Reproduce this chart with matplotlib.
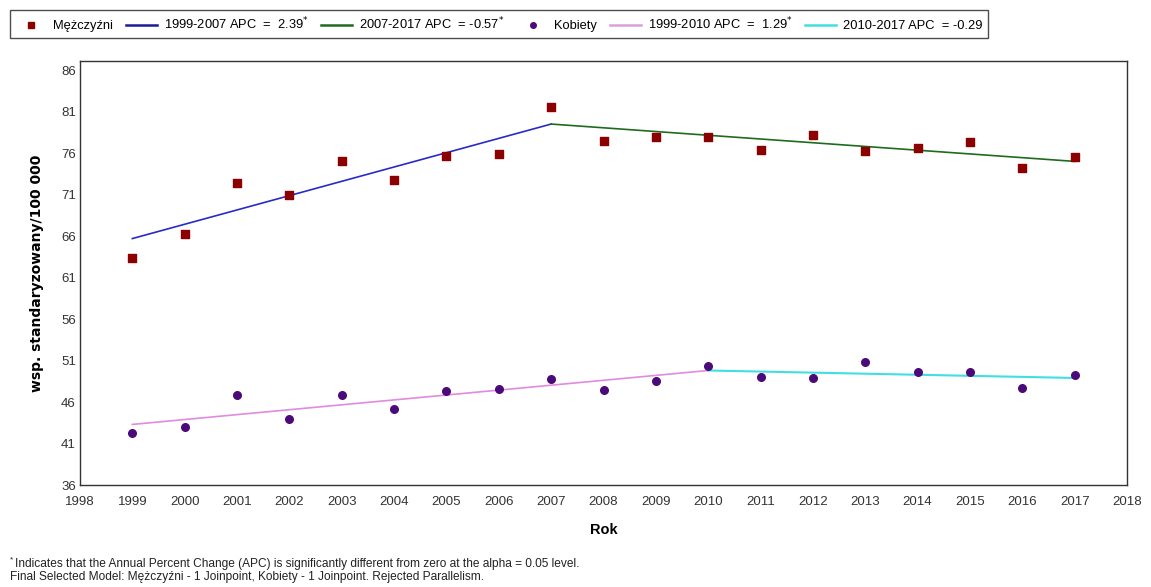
import matplotlib
matplotlib.use("Agg")
import matplotlib.pyplot as plt
from matplotlib.lines import Line2D

plt.rcParams['font.family'] = ['Liberation Sans', 'DejaVu Sans']

# dane
years = list(range(1999, 2018))
men = [63.3, 66.2, 72.4, 71.0, 75.0, 72.8, 75.6, 75.9, 81.6, 77.4,
       78.0, 78.0, 76.4, 78.2, 76.2, 76.6, 77.3, 74.2, 75.5]
women = [42.3, 43.0, 46.9, 44.0, 46.8, 45.1, 47.3, 47.6, 48.8, 47.5,
         48.5, 50.4, 49.0, 48.9, 50.8, 49.6, 49.6, 47.7, 49.2]

# modele joinpoint (lata węzłów i wartości dopasowane)
men_fit_1_x = [1999, 2007]
men_fit_1_y = [65.7, 79.5]
men_fit_2_x = [2007, 2017]
men_fit_2_y = [79.5, 75.0]
women_fit_1_x = [1999, 2010]
women_fit_1_y = [43.3, 49.8]
women_fit_2_x = [2010, 2017]
women_fit_2_y = [49.8, 48.9]

labels = ['Mężczyźni',
          '1999-2007 APC  =  2.39$^{*}$',
          '2007-2017 APC  = -0.57$^{*}$',
          'Kobiety',
          '1999-2010 APC  =  1.29$^{*}$',
          '2010-2017 APC  = -0.29']

c_men = '#8b0000'
c_women = '#4b0a7a'
c_blue = '#2a2ac8'
c_green = '#1e6b1e'
c_pink = '#e08be0'
c_cyan = '#40e0e0'

fig = plt.figure(figsize=(11.51, 5.87), dpi=100)
ax = fig.add_axes([80 / 1151, 1 - 485 / 587, (1127 - 80) / 1151, (485 - 61) / 587])

ax.plot(men_fit_1_x, men_fit_1_y, color=c_blue, lw=1.2, zorder=2)
ax.plot(men_fit_2_x, men_fit_2_y, color=c_green, lw=1.2, zorder=2)
ax.plot(women_fit_1_x, women_fit_1_y, color=c_pink, lw=1.2, zorder=2)
ax.plot(women_fit_2_x, women_fit_2_y, color=c_cyan, lw=1.5, zorder=2)
ax.scatter(years, men, marker='s', s=30, color=c_men, zorder=3)
ax.scatter(years, women, marker='o', s=30, color=c_women, zorder=3)

ax.set_xlim(1998, 2018)
ax.set_ylim(36, 87.1)
ax.set_xticks(range(1998, 2019))
ax.set_yticks(range(36, 87, 5))
ax.tick_params(axis='both', length=0, labelsize=9.5, labelcolor='#333333')
ax.tick_params(axis='x', pad=8)
ax.tick_params(axis='y', pad=3)
for s in ax.spines.values():
    s.set_color('#333333')
    s.set_linewidth(1.0)

ax.set_xlabel('Rok', fontsize=10.5, fontweight='bold', labelpad=11)
ax.set_ylabel('wsp. standaryzowany/100 000', fontsize=10, fontweight='bold',
              family='DejaVu Sans', labelpad=12)

handles = [
    Line2D([], [], ls='none', marker='s', ms=4, color=c_men),
    Line2D([], [], color='#1a1a9a', lw=1.8),
    Line2D([], [], color='#1e6b1e', lw=1.8),
    Line2D([], [], ls='none', marker='o', ms=4, color=c_women),
    Line2D([], [], color='#d9a0d9', lw=1.8),
    Line2D([], [], color=c_cyan, lw=1.8),
]
leg = fig.legend(handles, labels, loc='upper left', ncol=6,
                 bbox_to_anchor=(10 / 1151, 1 - 10 / 587),
                 fontsize=9.3, frameon=True, fancybox=False,
                 handlelength=2.4, handletextpad=0.5, columnspacing=1.0,
                 borderpad=0.45, borderaxespad=0)
leg.get_frame().set_edgecolor('#222222')
leg.get_frame().set_linewidth(1.0)

# przypis pod wykresem
fig.text(10 / 1151, 1 - 560 / 587, '*', fontsize=6, va='center', color='#222222')
fig.text(15 / 1151, 1 - 564 / 587,
         'Indicates that the Annual Percent Change (APC) is significantly '
         'different from zero at the alpha = 0.05 level.',
         fontsize=8.6, va='center', color='#222222')
fig.text(10 / 1151, 1 - 577 / 587,
         'Final Selected Model: Mężczyźni - 1 Joinpoint, Kobiety - 1 Joinpoint. '
         'Rejected Parallelism.',
         fontsize=8.6, va='center', color='#222222')

fig.savefig('out.png', dpi=100)
